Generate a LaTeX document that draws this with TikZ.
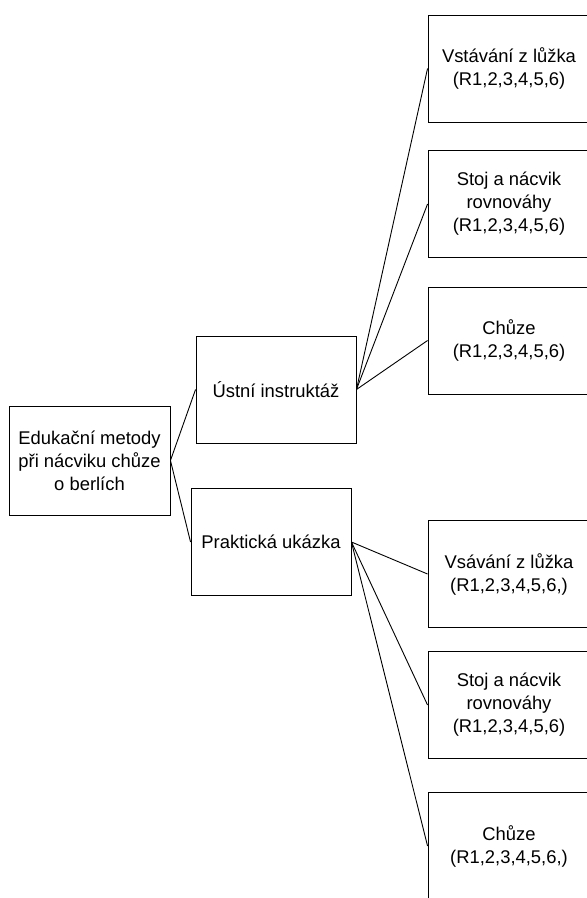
\documentclass[tikz,border=0pt]{standalone}
\usepackage{fontspec}
\setmainfont{Liberation Sans}
\begin{document}
\begin{tikzpicture}[x=1pt,y=-1pt,
  box/.style={draw=black,line width=0.9pt,rectangle,inner sep=0pt,
    minimum height=107pt,align=center,
    font=\fontsize{18.4}{23}\selectfont},
  rootbox/.style={box,minimum width=161pt,minimum height=109pt},
  midbox/.style={box,minimum width=160pt},
  leafbox/.style={box,minimum width=162pt},
  link/.style={draw=black,line width=0.9pt}]
\useasboundingbox (0,0) rectangle (587,898);
\clip (0,0) rectangle (587,898);
\fill[white] (0,0) rectangle (587,898);

% root
\node[rootbox] (root) at (89.5,460.5) {Edukační metody\\při nácviku chůze\\o berlích};

% second level
\node[midbox] (oral) at (276,389.5) {Ústní instruktáž};
\node[midbox] (demo) at (271,542) {Praktická ukázka};

% leaves under oral instruction
\node[leafbox] (o1) at (509,68.5) {Vstávání z lůžka\\(R1,2,3,4,5,6)};
\node[leafbox] (o2) at (509,204) {Stoj a nácvik\\rovnováhy\\(R1,2,3,4,5,6)};
\node[leafbox] (o3) at (509,340.5) {Chůze\\(R1,2,3,4,5,6)};

% leaves under practical demonstration
\node[leafbox] (d1) at (509,574) {Vsávání z lůžka\\(R1,2,3,4,5,6,)};
\node[leafbox] (d2) at (509,705) {Stoj a nácvik\\rovnováhy\\(R1,2,3,4,5,6)};
\node[leafbox] (d3) at (509,846) {Chůze\\(R1,2,3,4,5,6,)};

% connectors
\draw[link] (root.east) -- (oral.west);
\draw[link] (root.east) -- (demo.west);
\foreach \n in {o1,o2,o3} \draw[link] (oral.east) -- (\n.west);
\foreach \n in {d1,d2,d3} \draw[link] (demo.east) -- (\n.west);
\end{tikzpicture}
\end{document}
